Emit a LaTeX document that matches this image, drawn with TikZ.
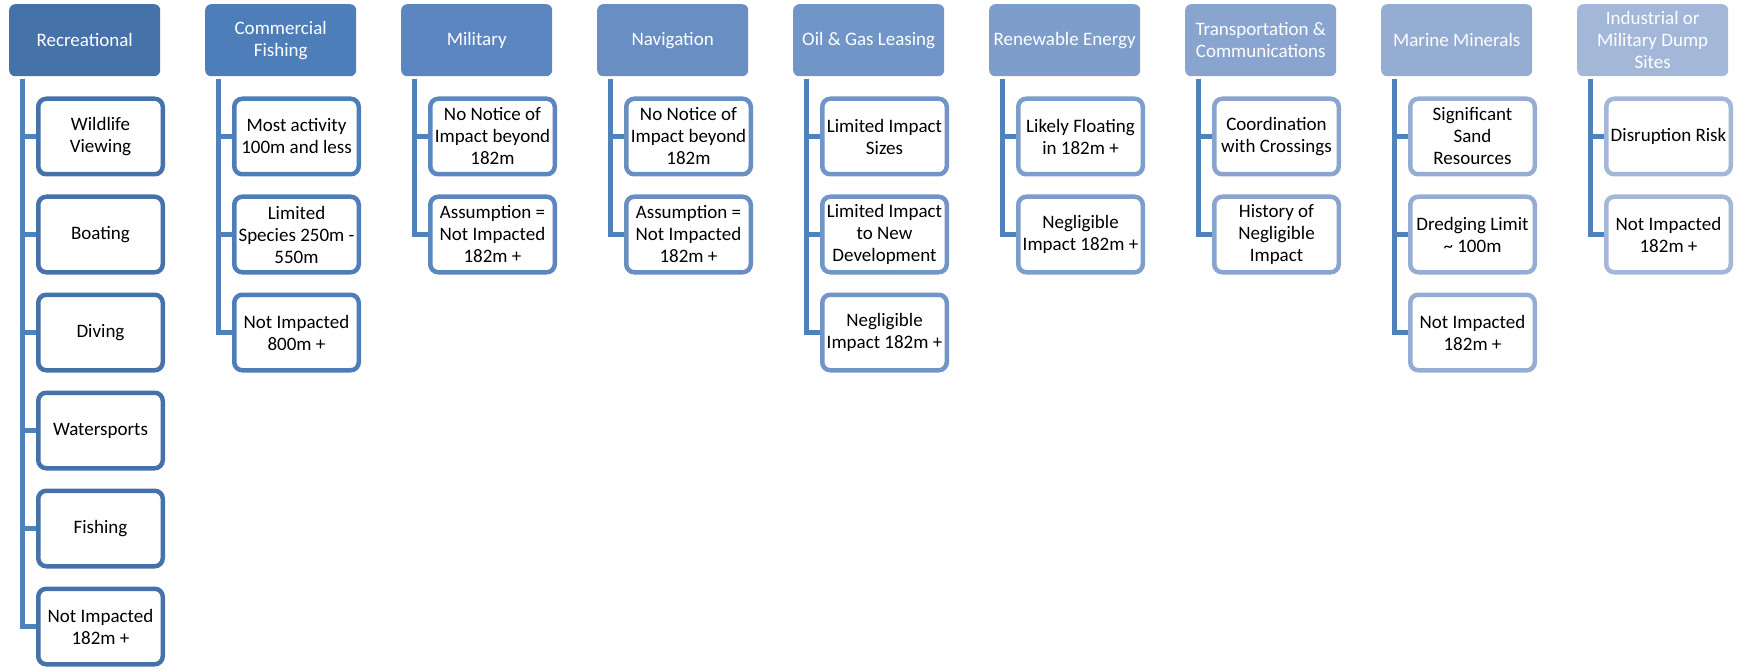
\documentclass[tikz,border=0pt]{standalone}
\usepackage{fontspec}
\setmainfont{Carlito}
\usetikzlibrary{backgrounds}
\definecolor{hc0}{RGB}{70,114,170}
\definecolor{hc1}{RGB}{78,126,186}
\definecolor{hc2}{RGB}{91,134,191}
\definecolor{hc3}{RGB}{104,142,195}
\definecolor{hc4}{RGB}{114,149,199}
\definecolor{hc5}{RGB}{125,157,203}
\definecolor{hc6}{RGB}{137,165,207}
\definecolor{hc7}{RGB}{149,173,211}
\definecolor{hc8}{RGB}{163,183,216}
\definecolor{linec}{RGB}{79,129,189}
\tikzset{
  hdr/.style={rectangle, rounded corners=6pt, fill=#1, draw=none, text=white,
    minimum width=151pt, minimum height=72pt, anchor=north west, align=center,
    inner sep=1pt, font=\fontsize{19}{22}\selectfont},
  kid/.style={rectangle, rounded corners=8pt, fill=white, draw=#1, line width=4.5pt,
    text=black, minimum width=124.5pt, minimum height=75.5pt, align=center,
    inner sep=0pt, font=\fontsize{19}{22}\selectfont},
  conn/.style={draw=linec, line width=4.5pt}
}
\begin{document}
\begin{tikzpicture}[x=1pt,y=-1pt]
\useasboundingbox (0,0) rectangle (1737,671);
% headers
\node[hdr=hc0] (h0) at (9,4) {Recreational};
\node[hdr=hc1] (h1) at (205,4) {Commercial\\Fishing};
\node[hdr=hc2] (h2) at (401,4) {Military};
\node[hdr=hc3] (h3) at (597,4) {Navigation};
\node[hdr=hc4] (h4) at (793,4) {Oil \& Gas Leasing};
\node[hdr=hc5] (h5) at (989,4) {Renewable Energy};
\node[hdr=hc6] (h6) at (1185,4) {Transportation \&\\Communications};
\node[hdr=hc7] (h7) at (1381,4) {Marine Minerals};
\node[hdr=hc8] (h8) at (1577,4) {Industrial or\\Military Dump\\Sites};
% children: x center = left + 91.5 ; y center = 136.5 + 98 j
\node[kid=hc0] (c00) at (100.5,136.5) {Wildlife\\Viewing};
\node[kid=hc0] (c01) at (100.5,234.5) {Boating};
\node[kid=hc0] (c02) at (100.5,332.5) {Diving};
\node[kid=hc0] (c03) at (100.5,430.5) {Watersports};
\node[kid=hc0] (c04) at (100.5,528.5) {Fishing};
\node[kid=hc0] (c05) at (100.5,626.5) {Not Impacted\\182m +};
\node[kid=hc1] (c10) at (296.5,136.5) {Most activity\\100m and less};
\node[kid=hc1] (c11) at (296.5,234.5) {Limited\\Species 250m -\\550m};
\node[kid=hc1] (c12) at (296.5,332.5) {Not Impacted\\800m +};
\node[kid=hc2] (c20) at (492.5,136.5) {No Notice of\\Impact beyond\\182m};
\node[kid=hc2] (c21) at (492.5,234.5) {Assumption =\\Not Impacted\\182m +};
\node[kid=hc3] (c30) at (688.5,136.5) {No Notice of\\Impact beyond\\182m};
\node[kid=hc3] (c31) at (688.5,234.5) {Assumption =\\Not Impacted\\182m +};
\node[kid=hc4] (c40) at (884.5,136.5) {Limited Impact\\Sizes};
\node[kid=hc4] (c41) at (884.5,234.5) {Limited Impact\\to New\\Development};
\node[kid=hc4] (c42) at (884.5,332.5) {Negligible\\Impact 182m +};
\node[kid=hc5] (c50) at (1080.5,136.5) {Likely Floating\\in 182m +};
\node[kid=hc5] (c51) at (1080.5,234.5) {Negligible\\Impact 182m +};
\node[kid=hc6] (c60) at (1276.5,136.5) {Coordination\\with Crossings};
\node[kid=hc6] (c61) at (1276.5,234.5) {History of\\Negligible\\Impact};
\node[kid=hc7] (c70) at (1472.5,136.5) {Significant\\Sand\\Resources};
\node[kid=hc7] (c71) at (1472.5,234.5) {Dredging Limit\\\textasciitilde{} 100m};
\node[kid=hc7] (c72) at (1472.5,332.5) {Not Impacted\\182m +};
\node[kid=hc8] (c80) at (1668.5,136.5) {Disruption Risk};
\node[kid=hc8] (c81) at (1668.5,234.5) {Not Impacted\\182m +};
% line tops
\foreach \i/\x in {0/22.5,1/218.5,2/414.5,3/610.5,4/806.5,5/1002.5,6/1198.5,7/1394.5,8/1590.5}
  \coordinate (t\i) at (\x,79);
\begin{scope}[on background layer]
\foreach \c in {c00,c01,c02,c03,c04,c05} \draw[conn] (t0) |- (\c.west);
\foreach \c in {c10,c11,c12} \draw[conn] (t1) |- (\c.west);
\foreach \c in {c20,c21} \draw[conn] (t2) |- (\c.west);
\foreach \c in {c30,c31} \draw[conn] (t3) |- (\c.west);
\foreach \c in {c40,c41,c42} \draw[conn] (t4) |- (\c.west);
\foreach \c in {c50,c51} \draw[conn] (t5) |- (\c.west);
\foreach \c in {c60,c61} \draw[conn] (t6) |- (\c.west);
\foreach \c in {c70,c71,c72} \draw[conn] (t7) |- (\c.west);
\foreach \c in {c80,c81} \draw[conn] (t8) |- (\c.west);
\end{scope}
\end{tikzpicture}
\end{document}
